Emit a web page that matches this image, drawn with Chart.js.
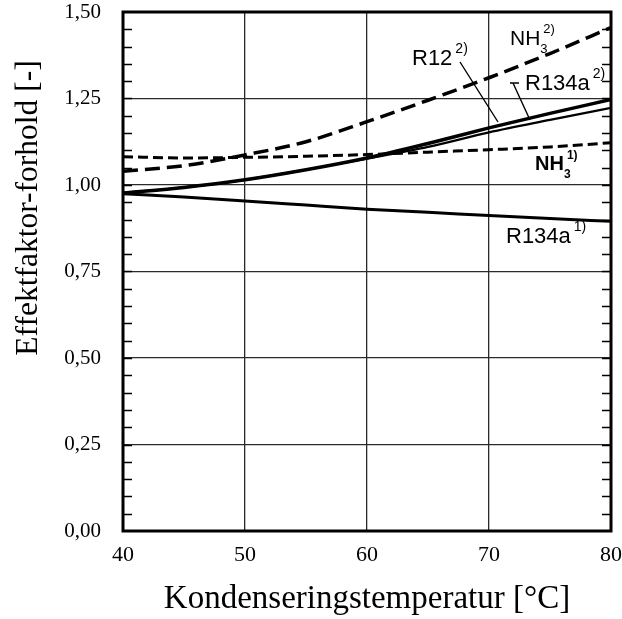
<!DOCTYPE html>
<html>
<head>
<meta charset="utf-8">
<script src="https://cdn.jsdelivr.net/npm/chart.js@4/dist/chart.umd.min.js"></script>
<style>
  html, body { margin: 0; padding: 0; background: #fff; }
  #wrap { width: 622px; height: 619px; }
</style>
</head>
<body>
<div id="wrap"><canvas id="chart" width="622" height="619"></canvas></div>
<script>
// Kondenseringstemperatur [°C]
const temps = [40, 45, 50, 55, 60, 65, 70, 75, 80];

// Effektfaktor-forhold [-]
const nh3_2 = [1.040, 1.056, 1.087, 1.125, 1.183, 1.245, 1.310, 1.380, 1.455];
const nh3_1 = [1.082, 1.078, 1.080, 1.083, 1.088, 1.095, 1.102, 1.110, 1.122];
const r134a_2 = [0.977, 0.993, 1.015, 1.044, 1.078, 1.120, 1.165, 1.207, 1.247];
const r12_2 = [0.977, 0.993, 1.015, 1.044, 1.076, 1.110, 1.152, 1.188, 1.223];
const r134a_1 = [0.975, 0.965, 0.954, 0.942, 0.930, 0.921, 0.912, 0.903, 0.895];

const yTicks = [0, 0.25, 0.5, 0.75, 1.0, 1.25, 1.5];

const serif = "'Liberation Serif', 'Times New Roman', serif";
const sans = "'Liberation Sans', Arial, sans-serif";

function pts(values) {
  return temps.map((t, i) => ({ x: t, y: values[i] }));
}

// frame, inward minor ticks, curve labels and y title
const decor = {
  id: "decor",
  afterDatasetsDraw(chart) {
    const { ctx, chartArea: a, scales } = chart;
    const y = scales.y;
    ctx.save();
    ctx.strokeStyle = "#000";
    ctx.lineWidth = 1.6;
    for (let v = 0.05; v < 1.5; v += 0.05) {
      const py = Math.round(y.getPixelForValue(v)) + 0.5;
      ctx.beginPath();
      ctx.moveTo(a.left, py);
      ctx.lineTo(a.left + 9, py);
      ctx.moveTo(a.right, py);
      ctx.lineTo(a.right - 9, py);
      ctx.stroke();
    }
    ctx.lineWidth = 3;
    ctx.strokeRect(a.left, a.top, a.right - a.left, a.bottom - a.top);

    // leader lines
    ctx.lineWidth = 1.4;
    ctx.beginPath();
    ctx.moveTo(460, 62); ctx.lineTo(498, 122);
    ctx.moveTo(510, 83); ctx.lineTo(519, 83);
    ctx.moveTo(513, 83); ctx.lineTo(530, 120);
    ctx.stroke();

    ctx.fillStyle = "#000";
    ctx.textBaseline = "alphabetic";
    ctx.textAlign = "left";
    function label(main, sub, sup, x, base, size, bold) {
      const w = bold ? "bold " : "";
      ctx.font = w + size + "px " + sans;
      ctx.fillText(main, x, base);
      const mw = ctx.measureText(main).width;
      ctx.font = w + Math.round(size * 0.62) + "px " + sans;
      const sx = x + mw + 1;
      if (sub) {
        ctx.fillText(sub, sx - 1, base + 8);
      }
      ctx.fillText(sup, sx + 2, base - size * 0.55);
    }
    label("NH", "3", "2)", 510, 45, 21, false);
    label("R12", "", "2)", 412, 65, 22, false);
    label("R134a", "", "2)", 525, 90, 22, false);
    label("NH", "3", "1)", 535, 170, 20, true);
    label("R134a", "", "1)", 506, 243, 22, false);

    // y axis title
    ctx.font = "31.5px " + serif;
    ctx.textAlign = "center";
    ctx.textBaseline = "middle";
    ctx.translate(29, 208);
    ctx.rotate(-Math.PI / 2);
    ctx.fillText("Effektfaktor-forhold [-]", 0, 0);
    ctx.restore();
  }
};

const lineBase = {
  borderColor: "#000",
  pointRadius: 0,
  fill: false,
  cubicInterpolationMode: "monotone"
};

new Chart(document.getElementById("chart"), {
  type: "line",
  data: {
    datasets: [
      Object.assign({ label: "NH3 2)", data: pts(nh3_2), borderWidth: 3.5, borderDash: [15, 7] }, lineBase),
      Object.assign({ label: "NH3 1)", data: pts(nh3_1), borderWidth: 3, borderDash: [10, 5] }, lineBase),
      Object.assign({ label: "R134a 2)", data: pts(r134a_2), borderWidth: 3.5 }, lineBase),
      Object.assign({ label: "R12 2)", data: pts(r12_2), borderWidth: 2.2 }, lineBase),
      Object.assign({ label: "R134a 1)", data: pts(r134a_1), borderWidth: 3 }, lineBase)
    ]
  },
  options: {
    responsive: false,
    animation: false,
    events: [],
    layout: { padding: 0 },
    plugins: { legend: { display: false }, tooltip: { enabled: false } },
    scales: {
      x: {
        type: "linear",
        min: 40,
        max: 80,
        afterFit(s) { s.height = 88; s.paddingRight = 11; s.paddingLeft = 0; },
        ticks: {
          stepSize: 10,
          color: "#000",
          padding: 11,
          font: { family: serif, size: 22 }
        },
        grid: { color: "#2a2a2a", lineWidth: 1.3, drawTicks: false },
        border: { display: false },
        title: {
          display: true,
          text: "Kondenseringstemperatur [°C]",
          color: "#000",
          font: { family: serif, size: 33 },
          padding: { top: 0, bottom: 0 }
        }
      },
      y: {
        min: 0,
        max: 1.5,
        afterFit(s) { s.width = 123; s.paddingTop = 12; s.paddingBottom = 0; },
        afterBuildTicks(s) { s.ticks = yTicks.map(v => ({ value: v })); },
        ticks: {
          color: "#000",
          padding: 22,
          font: { family: serif, size: 21 },
          callback: v => v.toFixed(2).replace(".", ",")
        },
        grid: { color: "#2a2a2a", lineWidth: 1.3, drawTicks: false },
        border: { display: false }
      }
    }
  },
  plugins: [decor]
});
</script>
</body>
</html>
